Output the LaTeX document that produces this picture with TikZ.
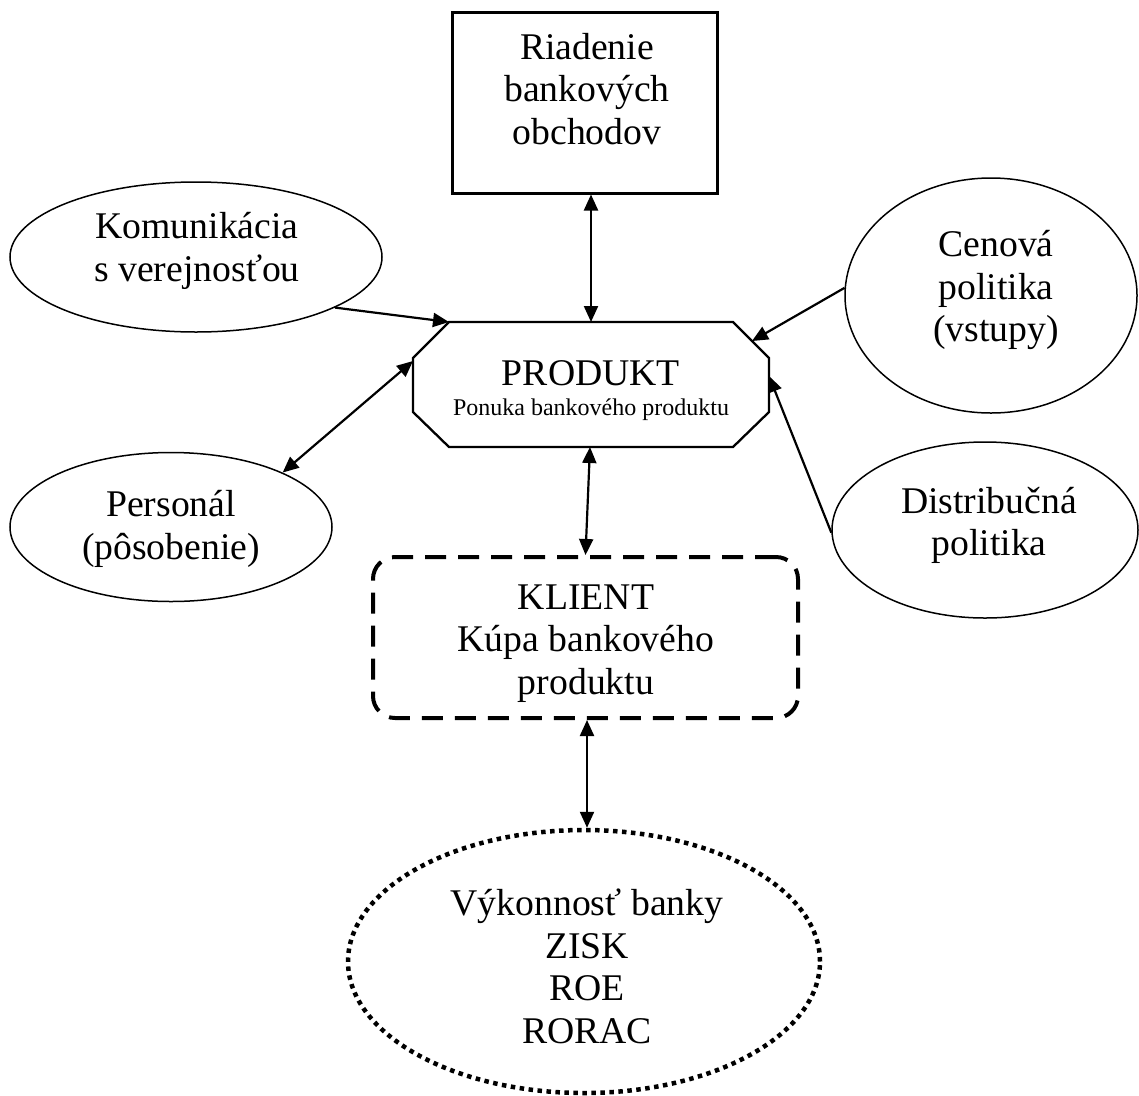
\documentclass[tikz,border=0pt]{standalone}
\usepackage{fontspec}
\setmainfont{Liberation Serif}
\usetikzlibrary{arrows.meta,calc,shapes.geometric}
\begin{document}
\begin{tikzpicture}[x=1pt,y=-1pt,
  txt/.style={font=\fontsize{37.7}{42.5}\selectfont, align=center, inner sep=0pt},
  small/.style={font=\fontsize{24}{28}\selectfont, inner sep=0pt},
  ell/.style={draw, ellipse, line width=1.5pt, inner sep=0pt},
  both/.style={line width=2.2pt, {Triangle[length=16pt,width=14pt]}-{Triangle[length=16pt,width=14pt]}},
  one/.style={line width=2.2pt, -{Triangle[length=16pt,width=14pt]}}]
\useasboundingbox (0,0) rectangle (1139,1095);

% top rectangle
\node[draw, line width=3pt, minimum width=265pt, minimum height=181pt, inner sep=0pt] (riad) at (584.5,102.5) {};
\node[txt] (riadt) at (587,89) {Riadenie\\bankových\\obchodov};

% octagon PRODUKT
\coordinate (oA) at (449,322);
\coordinate (oB) at (733,322);
\coordinate (oC) at (769,358);
\coordinate (oD) at (769,412);
\coordinate (oE) at (733,447);
\coordinate (oF) at (449,447);
\coordinate (oG) at (413,412);
\coordinate (oH) at (413,358);
\draw[line width=2.3pt, line join=miter] (oA) -- (oB) -- (oC) -- (oD) -- (oE) -- (oF) -- (oG) -- (oH) -- cycle;
\node[txt, anchor=base] (prodt) at (591,385) {PRODUKT};
\node[small, anchor=base] (pont) at (591,415) {Ponuka bankového produktu};
\coordinate (pN) at (591,322);
\coordinate (pS) at (590,447);
\coordinate (pW) at (413,361);
\coordinate (pNE) at (752,341);
\coordinate (pE) at (769,376);

% ellipses
\node[ell, minimum width=372pt, minimum height=150pt] (kom) at (196,257) {};
\node[txt] (komt) at (197,251) {Komunikácia\\s verejnosťou};

\node[ell, minimum width=322pt, minimum height=149pt] (pers) at (171,527) {};
\node[txt] (perst) at (171,529) {Personál\\(pôsobenie)};

\node[ell, minimum width=292pt, minimum height=235pt] (cen) at (991,295.5) {};
\node[txt] (cent) at (996,290) {Cenová\\politika\\(vstupy)};

\node[ell, minimum width=306pt, minimum height=176pt] (dis) at (985,530) {};
\node[txt] (dist) at (989,525.5) {Distribučná\\politika};

% KLIENT
\node[draw, line width=4pt, dash pattern=on 21pt off 12pt, rounded corners=22pt,
      minimum width=425pt, minimum height=161pt, inner sep=0pt] (kli) at (585.5,637.5) {};
\node[txt] (klit) at (586,643.5) {KLIENT\\Kúpa bankového\\produktu};

% Vykonnost
\node[draw, ellipse, line width=4.5pt, dash pattern=on 4.5pt off 4.5pt,
      minimum width=472pt, minimum height=263pt, inner sep=0pt] (vyk) at (584,961.5) {};
\node[txt] (vykt) at (587,966.5) {Výkonnosť banky\\ZISK\\ROE\\RORAC};

% connectors
\draw[both] (riad.south -| pN) -- (pN);
\draw[one] (kom.-20.7) -- (oA);
\draw[both] (pers.26.6) -- (pW);
\draw[one] (cen.177) -- (pNE);
\draw[one] (dis.181) -- (pE);
\draw[both] (pS) -- (kli.north);
\draw[both] (kli.south -| 587,0) -- (vyk.north -| 587,0);
\end{tikzpicture}
\end{document}
